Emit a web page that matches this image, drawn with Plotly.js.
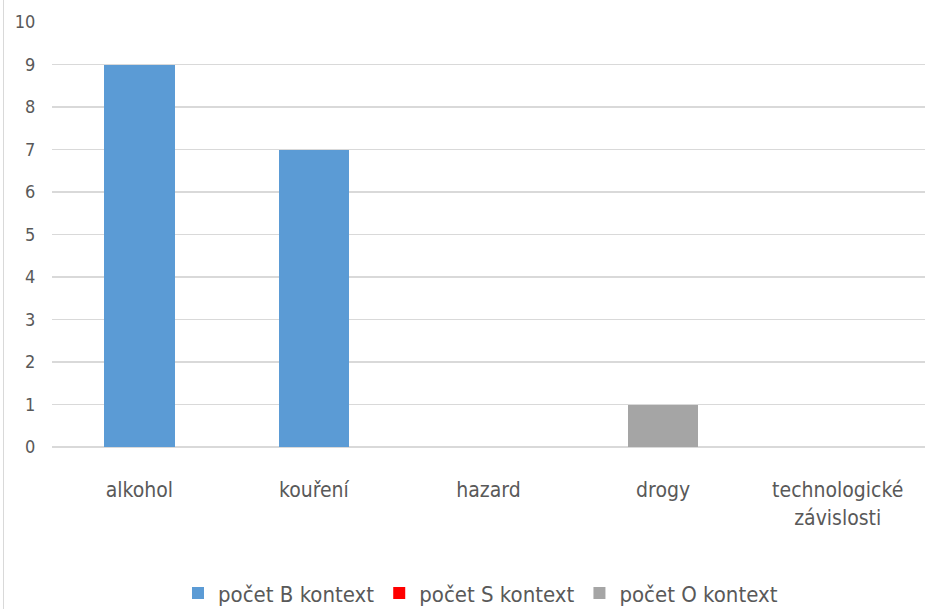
<!DOCTYPE html>
<html>
<head>
<meta charset="utf-8">
<script src="https://cdn.plot.ly/plotly-3.0.1.min.js"></script>
<style>
html,body{margin:0;padding:0;background:#fff;}
#chart{width:933px;height:609px;position:relative;}
#edge{position:absolute;left:3px;top:0;width:1px;height:609px;background:#d9d9d9;}
</style>
</head>
<body>
<div id="edge"></div>
<div id="chart"></div>
<script>
const categories = ["alkohol", "kouření", "hazard", "drogy", "technologické<br>závislosti"];
const seriesNames = ["počet B kontext", "počet S kontext", "počet O kontext"];
const valuesB = [9, 7, 0, 0, 0];
const valuesS = [0, 0, 0, 0, 0];
const valuesO = [0, 0, 0, 1, 0];
const colors = ["#5B9BD5", "#FF0000", "#A5A5A5"];
const yTicks = [0,1,2,3,4,5,6,7,8,9,10];

const fontFam = '"DejaVu Sans Condensed", "Liberation Sans Narrow", sans-serif';
const allVals = [valuesB, valuesS, valuesO];
const traces = allVals.map((v, i) => ({
  type: 'bar',
  name: seriesNames[i],
  x: categories,
  y: v,
  marker: {color: colors[i]},
  hoverinfo: 'x+y+name'
}));

const layout = {
  width: 933, height: 609,
  margin: {l: 52, r: 8, t: 22, b: 162},
  paper_bgcolor: 'rgba(0,0,0,0)',
  plot_bgcolor: '#fff',
  barmode: 'stack',
  bargap: 0.595,
  font: {family: fontFam, color: '#595959'},
  xaxis: {
    type: 'category',
    showgrid: false,
    showline: false,
    zeroline: false,
    ticks: 'outside', ticklen: 24, tickcolor: 'rgba(0,0,0,0)',
    tickfont: {size: 21, color: '#595959', family: fontFam}
  },
  yaxis: {
    range: [0, 10],
    tickvals: yTicks,
    ticktext: yTicks.map(String),
    showgrid: true, gridcolor: '#D9D9D9', gridwidth: 1.5,
    zeroline: true, zerolinecolor: '#D9D9D9', zerolinewidth: 1.5,
    showline: false,
    ticks: 'outside', ticklen: 12, tickcolor: 'rgba(0,0,0,0)',
    tickfont: {size: 18, color: '#595959', family: fontFam}
  },
  showlegend: true,
  legend: {
    orientation: 'h', x: 0.515, xanchor: 'center', xref: 'container',
    y: 0.026, yanchor: 'middle', yref: 'container',
    font: {size: 22, color: '#595959', family: fontFam},
    itemwidth: 30, itemclick: false, traceorder: 'normal'
  }
};
Plotly.newPlot('chart', traces, layout, {displayModeBar: false, staticPlot: true});
</script>
</body>
</html>
